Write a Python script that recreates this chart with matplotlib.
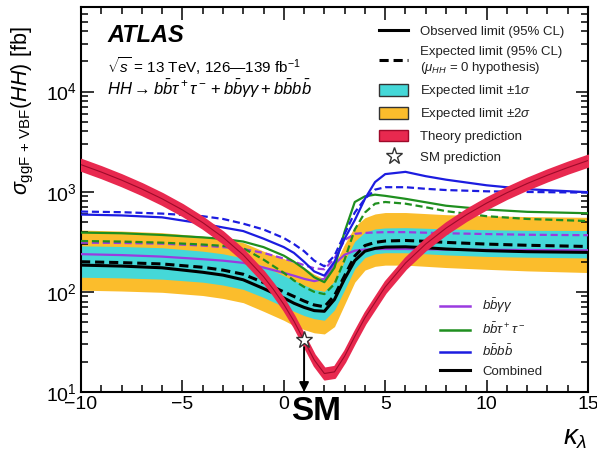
import matplotlib
matplotlib.use("Agg")
import matplotlib.pyplot as plt
from matplotlib.lines import Line2D
from matplotlib.patches import Patch
from matplotlib.ticker import LogLocator, MultipleLocator, NullFormatter

plt.rcParams['font.family'] = ['Liberation Sans', 'DejaVu Sans']
plt.rcParams['mathtext.fontset'] = 'custom'
plt.rcParams['mathtext.rm'] = 'Liberation Sans'
plt.rcParams['mathtext.it'] = 'Liberation Sans:italic'
plt.rcParams['mathtext.bf'] = 'Liberation Sans:bold'

# ---- kappa_lambda scan points -------------------------------------------
kl = [-10, -8, -6, -4, -3, -2, -1, 0, 0.5, 1, 1.5, 2, 2.5, 3, 3.5, 4, 4.5, 5, 6, 7, 8, 10, 12, 15]

# combined limits [fb]
obs_comb = [185, 181, 174, 157, 147, 132, 108, 87, 77, 70, 65, 64, 84, 135, 205, 255, 272, 280, 282, 276, 268, 258, 252, 248]
exp_comb = [200, 196, 190, 176, 165, 150, 124, 100, 90, 81, 74, 71, 92, 145, 228, 290, 312, 322, 326, 320, 312, 300, 292, 284]
exp_p1 = [288, 284, 276, 255, 240, 218, 180, 145, 130, 117, 106, 101, 128, 205, 320, 395, 425, 435, 438, 432, 425, 418, 412, 410]
exp_m1 = [140, 138, 134, 125, 117, 106, 88, 71, 64, 58, 54, 52, 66, 105, 170, 220, 240, 246, 246, 240, 234, 226, 222, 218]
exp_p2 = [414, 405, 390, 360, 340, 310, 255, 215, 195, 175, 150, 135, 185, 300, 450, 550, 600, 620, 620, 605, 590, 575, 565, 555]
exp_m2 = [104, 102, 99, 92, 86, 78, 64, 52, 46, 42, 39, 38, 45, 75, 125, 165, 180, 185, 185, 180, 175, 168, 162, 156]

# individual channels [fb]
obs_yy = [238, 233, 225, 212, 205, 195, 175, 155, 145, 135, 128, 135, 190, 235, 258, 265, 268, 268, 268, 266, 265, 263, 262, 260]
exp_yy = [310, 308, 303, 290, 280, 268, 245, 215, 200, 185, 172, 168, 215, 330, 380, 388, 392, 395, 395, 390, 385, 378, 372, 368]
obs_tt = [391, 385, 370, 350, 338, 318, 280, 230, 200, 170, 140, 125, 175, 400, 790, 900, 935, 910, 850, 785, 725, 665, 630, 610]
exp_tt = [322, 318, 310, 297, 288, 273, 210, 155, 130, 112, 100, 95, 120, 210, 420, 620, 760, 790, 760, 700, 640, 570, 535, 510]
obs_bb = [592, 580, 555, 480, 440, 405, 340, 280, 245, 200, 160, 145, 200, 340, 520, 850, 1250, 1500, 1580, 1430, 1320, 1160, 1060, 990]
exp_bb = [634, 625, 605, 570, 535, 480, 420, 345, 300, 255, 205, 180, 230, 380, 620, 850, 1050, 1110, 1110, 1070, 1040, 1010, 995, 980]

# theory prediction (ggF + VBF) [fb]
kl_th = [-10, -9, -8, -7, -6, -5, -4, -3, -2, -1, -0.5, 0, 0.5, 1, 1.5, 2, 2.5, 3, 3.5, 4,
         5, 6, 7, 8, 9, 10, 11, 12, 13, 14, 15]
th_mid = [1864, 1573, 1307, 1066, 850, 659, 492, 351, 234, 142, 105, 75, 51, 32.7, 20.9, 15.3, 15.9, 22.8, 35.8, 55,
          112, 194, 301, 433, 589, 770, 977, 1208, 1463, 1744, 2050]
th_hi = [2106, 1777, 1477, 1205, 961, 745, 556, 397, 264, 160, 119, 85, 57.6, 37, 23.6, 17.3, 18, 25.8, 40.5, 62,
         127, 219, 340, 489, 666, 870, 1104, 1365, 1653, 1971, 2317]
th_lo = [1640, 1384, 1150, 938, 748, 580, 433, 309, 206, 125, 92.4, 66, 44.9, 28.8, 18.4, 13.5, 14, 20.1, 31.5, 48.4,
         98.6, 171, 265, 381, 518, 678, 860, 1063, 1287, 1535, 1804]

sm_kl = 1.0
sm_xs = 32.7

# ---- colours ------------------------------------------------------------
c_yy = '#9a3be0'
c_tt = '#1f8f1f'
c_bb = '#1c1ce0'
c_1s = '#45d8d8'
c_2s = '#fbbd2c'
c_th = '#e8294f'
c_th_edge = '#9e0a2a'

W, H = 597, 455
fig = plt.figure(figsize=(W / 100, H / 100), dpi=100)
ax = fig.add_axes([81 / W, 1 - 392 / H, (588 - 81) / W, (392 - 7) / H])

ax.fill_between(kl, exp_m2, exp_p2, color=c_2s, lw=0, zorder=1)
ax.fill_between(kl, exp_m1, exp_p1, color=c_1s, lw=0, zorder=2)

dash = (3.2, 1.7)
ax.plot(kl, exp_yy, color=c_yy, lw=1.6, dashes=dash, zorder=3)
ax.plot(kl, obs_yy, color=c_yy, lw=1.6, zorder=3)
ax.plot(kl, exp_tt, color=c_tt, lw=1.6, dashes=dash, zorder=3)
ax.plot(kl, obs_tt, color=c_tt, lw=1.6, zorder=3)
ax.plot(kl, exp_bb, color=c_bb, lw=1.6, dashes=dash, zorder=3)
ax.plot(kl, obs_bb, color=c_bb, lw=1.6, zorder=3)
ax.plot(kl, exp_comb, color='black', lw=2.2, dashes=(3.0, 1.6), zorder=4)
ax.plot(kl, obs_comb, color='black', lw=2.2, zorder=4)

# theory band, outlined in the band colour so it reads as a thick ribbon
ax.fill_between(kl_th, th_lo, th_hi, facecolor=c_th, edgecolor=c_th, lw=1.6,
                joinstyle='round', zorder=5)
ax.plot(kl_th, th_mid, color=c_th_edge, lw=0.8, zorder=6)

ax.annotate('', xy=(sm_kl, 10), xytext=(sm_kl, 28),
            arrowprops=dict(arrowstyle='-|>', color='black', lw=1.4,
                            mutation_scale=14, shrinkA=0, shrinkB=0), zorder=7)
ax.plot([sm_kl], [sm_xs], marker='*', ms=12.5, mfc='white', mec='#333333', mew=1.0,
        ls='none', zorder=8)

ax.set_yscale('log')
ax.set_xlim(-10, 15)
ax.set_ylim(10, 7.0e4)
ax.xaxis.set_major_locator(MultipleLocator(5))
ax.xaxis.set_minor_locator(MultipleLocator(1))
ax.yaxis.set_major_locator(LogLocator(base=10, numticks=10))
ax.yaxis.set_minor_locator(LogLocator(base=10, subs=range(2, 10), numticks=20))
ax.yaxis.set_minor_formatter(NullFormatter())
ax.tick_params(which='both', direction='in', top=True, right=True, labelsize=14, width=1.1)
ax.tick_params(which='major', length=9, pad=3)
ax.tick_params(which='minor', length=5)
for sp in ax.spines.values():
    sp.set_linewidth(1.5)

# labels
fig.text(23 / W, 1 - 111 / H, r'$\sigma_{\mathrm{ggF\,+\,VBF}}(HH)$ [fb]', rotation=90,
         ha='center', va='center', fontsize=15.5)
fig.text(587 / W, 1 - 438 / H, r'$\kappa_\lambda$', ha='right', va='center', fontsize=20)
fig.text(316 / W, 1 - 411 / H, 'SM', ha='center', va='center', fontsize=24, fontweight='bold')

fig.text(107 / W, 1 - 35 / H, 'ATLAS', ha='left', va='center', fontsize=17,
         fontweight='bold', fontstyle='italic')
fig.text(107 / W, 1 - 66 / H, r'$\sqrt{s}$ = 13 TeV, 126—139 fb$^{-1}$', ha='left', va='center', fontsize=11)
fig.text(107 / W, 1 - 89 / H,
         r'$HH \rightarrow b\bar{b}\tau^+\tau^- + b\bar{b}\gamma\gamma + b\bar{b}b\bar{b}$',
         ha='left', va='center', fontsize=12)

# legends
h_main = [
    Line2D([], [], color='black', lw=2.2),
    Line2D([], [], color='black', lw=2.2, dashes=(3.0, 1.6)),
    Patch(facecolor=c_1s, edgecolor='#333333', lw=1.0),
    Patch(facecolor=c_2s, edgecolor='#333333', lw=1.0),
    Patch(facecolor=c_th, edgecolor=c_th_edge, lw=1.0),
    Line2D([], [], marker='*', ms=12.5, mfc='white', mec='#333333', mew=1.0, ls='none'),
]
l_main = ['Observed limit (95% CL)',
          'Expected limit (95% CL)\n' + r'($\mu_{HH}$ = 0 hypothesis)',
          r'Expected limit $\pm1\sigma$',
          r'Expected limit $\pm2\sigma$',
          'Theory prediction',
          'SM prediction']
leg1 = fig.legend(h_main, l_main, loc='upper left', bbox_to_anchor=(379 / W, 1 - 25 / H),
                  frameon=False, fontsize=9.5, handlelength=2.2, handleheight=1.0,
                  handletextpad=0.9, labelspacing=0.55, borderpad=0, borderaxespad=0)
for t in leg1.get_texts():
    t.set_color('#222222')

h_ch = [Line2D([], [], color=c_yy, lw=1.8), Line2D([], [], color=c_tt, lw=1.8),
        Line2D([], [], color=c_bb, lw=1.8), Line2D([], [], color='black', lw=2.2)]
l_ch = [r'$b\bar{b}\gamma\gamma$', r'$b\bar{b}\tau^+\tau^-$', r'$b\bar{b}b\bar{b}$', 'Combined']
leg2 = fig.legend(h_ch, l_ch, loc='upper left', bbox_to_anchor=(440 / W, 1 - 297 / H),
                  frameon=False, fontsize=9.5, handlelength=2.3, handletextpad=0.9,
                  labelspacing=0.48, borderpad=0, borderaxespad=0)
for t in leg2.get_texts():
    t.set_color('#222222')

fig.savefig('out.png', dpi=100)
